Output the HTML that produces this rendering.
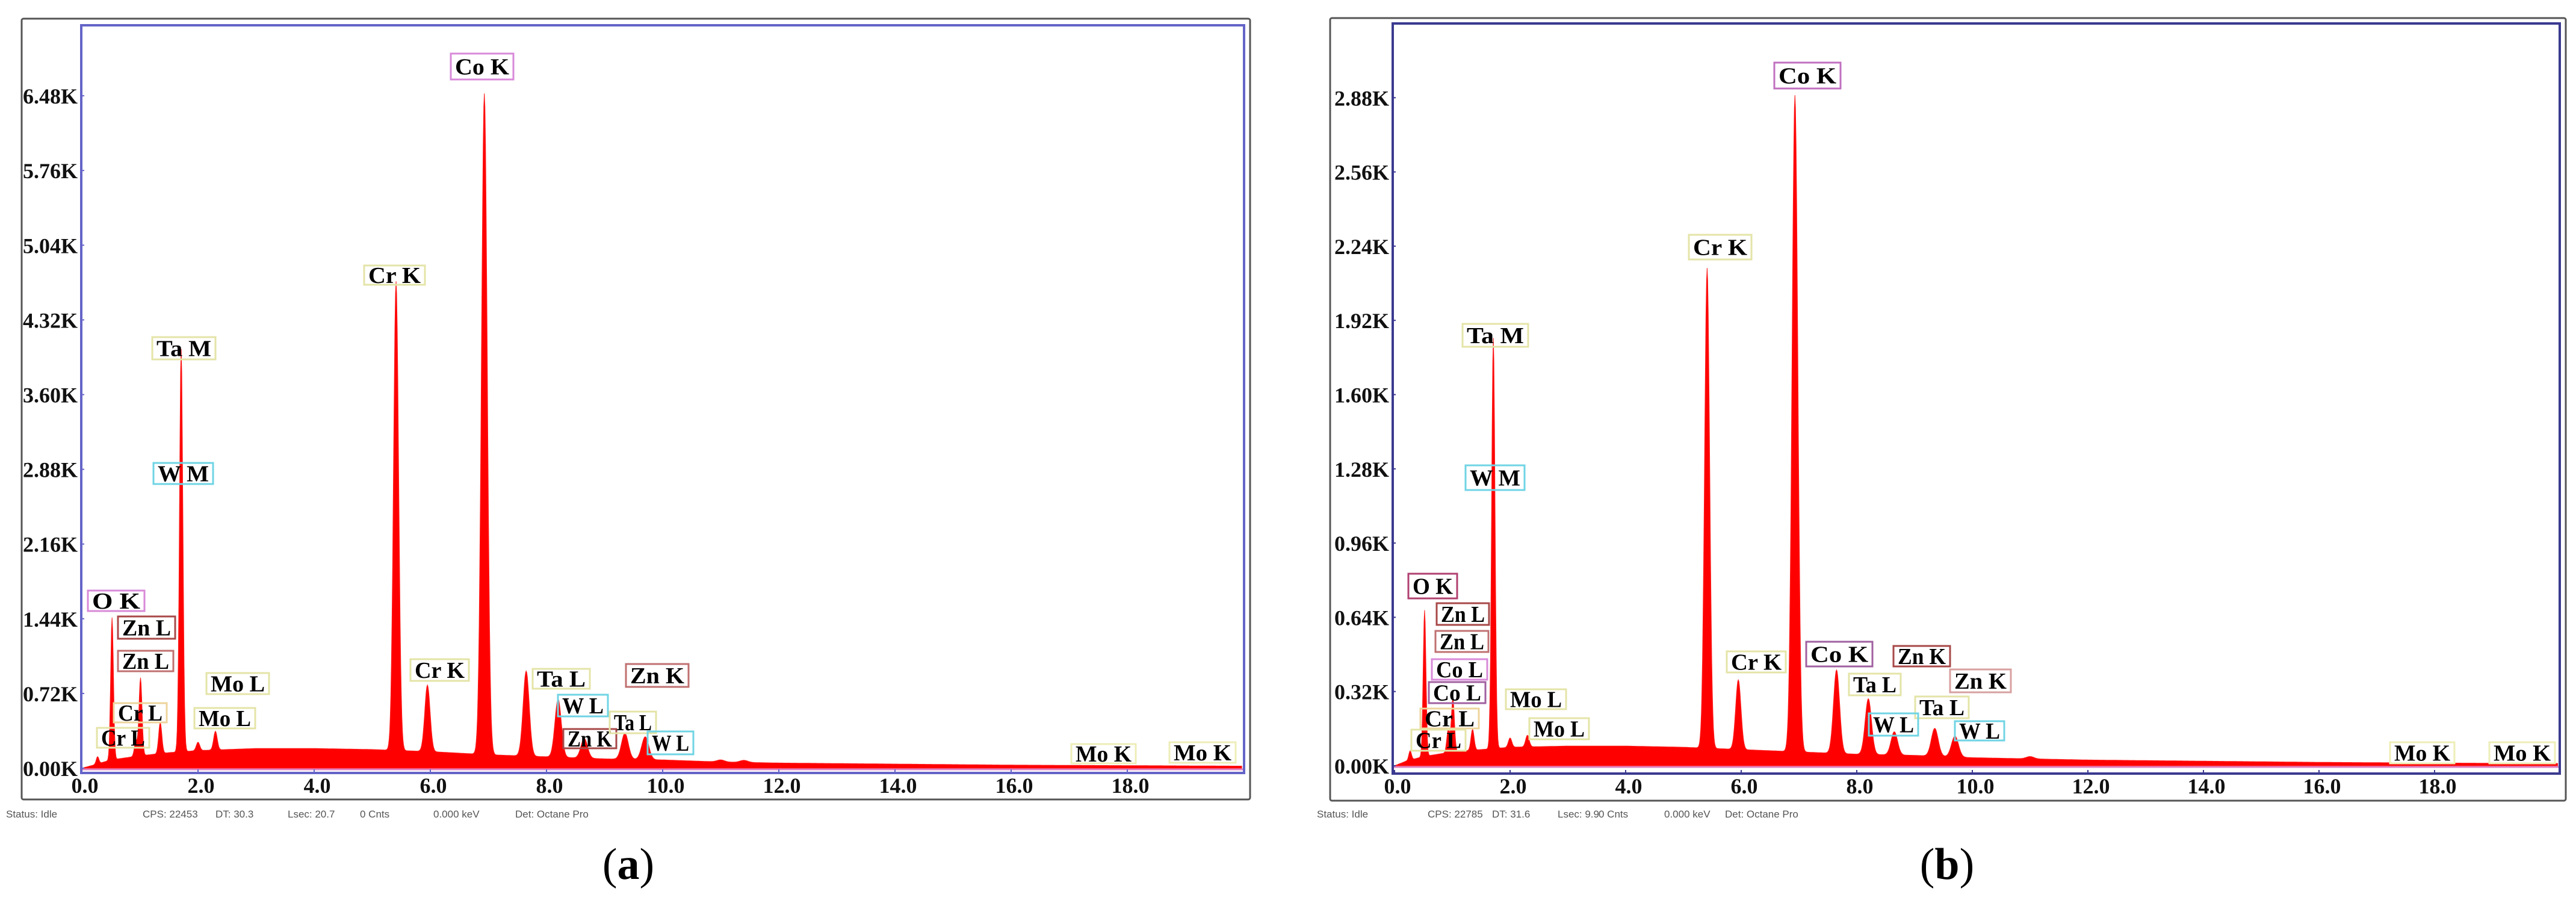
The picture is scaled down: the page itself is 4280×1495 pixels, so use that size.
<!DOCTYPE html>
<html>
<head>
<meta charset="utf-8">
<style>
html,body{margin:0;padding:0;background:#fff;}
svg{display:block;}
.tick{font-family:"Liberation Serif",serif;font-weight:bold;font-size:36px;fill:#111;}
.lbl{font-family:"Liberation Serif",serif;font-weight:bold;font-size:38px;fill:#000;}
.stat{font-family:"Liberation Sans","DejaVu Sans",sans-serif;font-size:17px;fill:#555;}
.cap{font-family:"Liberation Serif",serif;font-size:74px;fill:#000;}
</style>
</head>
<body>
<svg id="chart" xmlns="http://www.w3.org/2000/svg" width="4280" height="1495" viewBox="0 0 4280 1495"></svg>
<script>
// ---------- Panel (a) data ----------
const peakEnergiesA = [0.27,0.52,0.93,1.01,1.35,1.71,2.0,2.3,5.41,5.95,6.93,7.65,8.2,8.65,9.35,9.7,11.0,11.4];
const peakHeightsA  = [0.07,1.37,0.15,0.75,0.30,3.88,0.08,0.18,4.52,0.64,6.37,0.82,0.56,0.19,0.25,0.22,0.02,0.02];
const bgEnergiesA = [0,0.2,0.5,1,1.5,2,3,4,5,6,7,8,9,10,11,12,14,16,18,20];
const bgCountsA   = [0,0.03,0.08,0.12,0.15,0.17,0.19,0.19,0.18,0.16,0.13,0.11,0.09,0.08,0.06,0.05,0.04,0.03,0.025,0.02];
const yTicksA = ["0.00K","0.72K","1.44K","2.16K","2.88K","3.60K","4.32K","5.04K","5.76K","6.48K"];
const yTickValsA = [0,0.72,1.44,2.16,2.88,3.60,4.32,5.04,5.76,6.48];
// ---------- Panel (b) data ----------
const peakEnergiesB = [0.27,0.52,0.93,1.01,1.35,1.71,2.0,2.3,5.41,5.95,6.93,7.65,8.2,8.65,9.35,9.7,11.0];
const peakHeightsB  = [0.04,0.63,0.10,0.23,0.09,1.77,0.04,0.05,2.07,0.30,2.83,0.36,0.24,0.10,0.12,0.09,0.01];
const bgEnergiesB = [0,0.2,0.5,1,1.5,2,3,4,5,6,7,8,9,10,11,12,14,16,18,20];
const bgCountsB   = [0,0.02,0.04,0.06,0.07,0.08,0.085,0.085,0.08,0.07,0.06,0.05,0.045,0.035,0.03,0.025,0.02,0.015,0.012,0.01];
const yTicksB = ["0.00K","0.32K","0.64K","0.96K","1.28K","1.60K","1.92K","2.24K","2.56K","2.88K"];
const yTickValsB = [0,0.32,0.64,0.96,1.28,1.60,1.92,2.24,2.56,2.88];
// ---------- shared ----------
const xTickVals = [0,2,4,6,8,10,12,14,16,18];
const xTickLabels = ["0.0","2.0","4.0","6.0","8.0","10.0","12.0","14.0","16.0","18.0"];

// annotation boxes (text, left, top, right, bottom, border colour)
const labelsA = [
 ["Co K",749,89,853,132,"#d88ad8"],["Cr K",605,441,706,473,"#e4e4a8"],
 ["Ta M",253,560,358,597,"#e4e4a8"],["W M",255,769,354,804,"#70d4e4"],
 ["O K",146,981,240,1015,"#d88ad8"],["Zn L",196,1024,291,1061,"#a84848"],
 ["Zn L",196,1081,288,1115,"#c07070"],["Cr L",189,1168,277,1200,"#eed49c"],
 ["Cr L",161,1209,248,1242,"#e4e4a8"],["Mo L",343,1118,447,1153,"#e4e4a8"],
 ["Mo L",323,1176,424,1210,"#e4e4a8"],["Cr K",682,1095,779,1131,"#e4e4a8"],
 ["Ta L",885,1111,980,1144,"#e4e4a8"],["W L",927,1154,1010,1190,"#70d4e4"],
 ["Zn K",936,1211,1024,1243,"#a84848"],["Zn K",1040,1103,1144,1141,"#c07070"],
 ["Ta L",1013,1182,1090,1218,"#e4e4a8"],["W L",1076,1215,1152,1253,"#70d4e4"],
 ["Mo K",1780,1236,1887,1268,"#eeeeb8"],["Mo K",1943,1233,2053,1267,"#eeeeb8"]
];
const labelsB = [
 ["Co K",2948,104,3058,147,"#c070c0"],["Cr K",2806,390,2910,431,"#e4e4a8"],
 ["Ta M",2430,538,2539,576,"#e4e4a8"],["W M",2435,773,2533,814,"#70d4e4"],
 ["O K",2340,953,2421,994,"#b04070"],["Zn L",2387,1002,2474,1038,"#a84848"],
 ["Zn L",2385,1048,2473,1083,"#c07070"],["Co L",2379,1095,2471,1129,"#d88ad8"],
 ["Co L",2374,1133,2468,1168,"#a060a0"],["Cr L",2360,1177,2457,1210,"#eed49c"],
 ["Cr L",2345,1212,2435,1247,"#e4e4a8"],["Mo L",2502,1145,2602,1178,"#e4e4a8"],
 ["Mo L",2541,1193,2640,1228,"#e4e4a8"],["Cr K",2869,1082,2967,1117,"#e4e4a8"],
 ["Co K",3001,1066,3111,1107,"#a060a0"],["Ta L",3072,1119,3158,1155,"#e4e4a8"],
 ["Zn K",3146,1073,3240,1107,"#a84848"],["Zn K",3240,1112,3341,1150,"#d8a0a0"],
 ["Ta L",3182,1157,3271,1193,"#e4e4a8"],["W L",3105,1185,3187,1222,"#70d4e4"],
 ["W L",3248,1198,3330,1230,"#70d4e4"],["Mo K",3971,1233,4078,1268,"#eeeeb8"],
 ["Mo K",4136,1233,4245,1268,"#eeeeb8"]
];

const NS = "http://www.w3.org/2000/svg";
const svg = document.getElementById('chart');
function mk(tag, attrs, parent){
  const e = document.createElementNS(NS, tag);
  for (const k in attrs) e.setAttribute(k, attrs[k]);
  (parent||svg).appendChild(e);
  return e;
}
function interp(xs, ys, x){
  if (x <= xs[0]) return ys[0];
  for (let i=1;i<xs.length;i++){
    if (x <= xs[i]){ const t=(x-xs[i-1])/(xs[i]-xs[i-1]); return ys[i-1]+t*(ys[i]-ys[i-1]); }
  }
  return ys[ys.length-1];
}

function drawPanel(cfg){
  const g = mk('g', {});
  
  
  const xS = e => cfg.x0 + e*cfg.pxPerKeV;
  const yS = v => cfg.y0 - v/cfg.yStep*cfg.yStepPx;

  // outer frame
  const fr = mk('rect', {x:cfg.fx1, y:cfg.fy1, width:cfg.fx2-cfg.fx1, height:cfg.fy2-cfg.fy1, fill:'#fff', stroke:'#555', 'stroke-width':3, rx:3}, g);
  
  

  // spectrum
  const pts = [];
  const top = cfg.by1 + 3;
  for (let i=0;i<=2020;i++){
    const e = i*0.01;
    if (xS(e) > cfg.bx2 - 3) break;
    let v = interp(cfg.bgE, cfg.bgC, e);
    for (let k=0;k<cfg.pE.length;k++){
      const s = 0.022 + 0.004*cfg.pE[k];
      const d = (e - cfg.pE[k])/s;
      v += cfg.pH[k]*Math.exp(-0.5*d*d);
    }
    let y = yS(v); if (y < top) y = top;
    pts.push(xS(e).toFixed(1)+','+y.toFixed(1));
  }
  const lastX = pts[pts.length-1].split(',')[0];
  const poly = mk('polygon', {points: xS(0).toFixed(1)+','+cfg.y0+' '+pts.join(' ')+' '+lastX+','+cfg.y0, fill:'#ff0000', stroke:'#ff2020', 'stroke-width':1}, g);
  
  
  const base = mk('line', {x1:cfg.bx1, x2:cfg.bx2, y1:cfg.y0+2, y2:cfg.y0+2, stroke:'#e080c0', 'stroke-width':3}, g);
  
  

  // plot box
  const box = mk('rect', {x:cfg.bx1, y:cfg.by1, width:cfg.bx2-cfg.bx1, height:cfg.by2-cfg.by1, fill:'none', stroke:cfg.boxColor, 'stroke-width':4}, g);
  
  

  // y ticks
  for (let i=0;i<cfg.yVals.length;i++){
    const y = yS(cfg.yVals[i]);
    const t = mk('text', {x:cfg.bx1-6, y:y+13, 'text-anchor':'end', class:'tick'}, g);
    t.textContent = cfg.yLabels[i];
    
    
    const tk = mk('line', {x1:cfg.bx1, x2:cfg.bx1+5, y1:y, y2:y, stroke:cfg.boxColor, 'stroke-width':2}, g);
    
    
  }
  // x ticks
  for (let i=0;i<xTickVals.length;i++){
    const x = xS(xTickVals[i]);
    const t = mk('text', {x:x+5, y:cfg.by2+33, 'text-anchor':'middle', class:'tick'}, g);
    t.textContent = xTickLabels[i];
    
    
    const tk = mk('line', {x1:x, x2:x, y1:cfg.by2, y2:cfg.by2-6, stroke:cfg.boxColor, 'stroke-width':2}, g);
    
    
  }
  // peak labels
  for (const L of cfg.labels){
    const r = mk('rect', {x:L[1], y:L[2], width:L[3]-L[1], height:L[4]-L[2], fill:'none', stroke:L[5], 'stroke-width':3}, g);
    
    
    const t = mk('text', {x:(L[1]+L[3])/2, y:(L[2]+L[4])/2+13, 'text-anchor':'middle', class:'lbl', textLength:(L[3]-L[1]-14), lengthAdjust:'spacingAndGlyphs'}, g);
    t.textContent = L[0];
    
    
  }
  // status bar
  for (const s of cfg.status){
    const t = mk('text', {x:s[1], y:1358, class:'stat'}, g);
    t.textContent = s[0];
    
    
  }
  // caption
  const cap = mk('text', {x:cfg.capX, y:1460, 'text-anchor':'middle', class:'cap'}, g);
  cap.innerHTML = '(<tspan font-weight="bold">'+cfg.cap+'</tspan>)';
  
  
}

drawPanel({name:'panel-a', x0:136, pxPerKeV:96.5, y0:1276, yStep:0.72, yStepPx:124.1,
  fx1:36, fy1:31, fx2:2077, fy2:1328, bx1:135, by1:42, bx2:2067, by2:1284, boxColor:'#6464c8',
  pE:peakEnergiesA, pH:peakHeightsA, bgE:bgEnergiesA, bgC:bgCountsA,
  yVals:yTickValsA, yLabels:yTicksA, labels:labelsA,
  status:[["Status: Idle",10],["CPS: 22453",237],["DT: 30.3",358],["Lsec: 20.7",478],["0 Cnts",598],["0.000 keV",720],["Det: Octane Pro",856]],
  capX:1044, cap:'a'});

drawPanel({name:'panel-b', x0:2317, pxPerKeV:96, y0:1272, yStep:0.32, yStepPx:123.3,
  fx1:2210, fy1:30, fx2:4263, fy2:1330, bx1:2314, by1:39, bx2:4253, by2:1285, boxColor:'#3a3a90',
  pE:peakEnergiesB, pH:peakHeightsB, bgE:bgEnergiesB, bgC:bgCountsB,
  yVals:yTickValsB, yLabels:yTicksB, labels:labelsB,
  status:[["Status: Idle",2188],["CPS: 22785",2372],["DT: 31.6",2479],["Lsec: 9.9",2588],["0 Cnts",2656],["0.000 keV",2765],["Det: Octane Pro",2866]],
  capX:3235, cap:'b'});
</script>
</body>
</html>
